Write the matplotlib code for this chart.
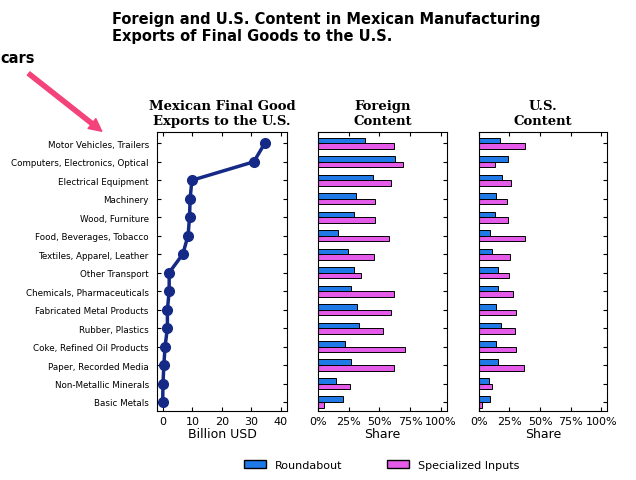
import numpy as np
import matplotlib.pyplot as plt
from matplotlib.patches import Patch

categories = ["Motor Vehicles, Trailers", "Computers, Electronics, Optical",
              "Electrical Equipment", "Machinery", "Wood, Furniture",
              "Food, Beverages, Tobacco", "Textiles, Apparel, Leather",
              "Other Transport", "Chemicals, Pharmaceuticals",
              "Fabricated Metal Products", "Rubber, Plastics",
              "Coke, Refined Oil Products", "Paper, Recorded Media",
              "Non-Metallic Minerals", "Basic Metals"]
exports = [34.5, 30.8, 9.8, 9.2, 9.0, 8.5, 6.7, 2.1, 2.1, 1.5, 1.5, 0.7, 0.3, 0.0, -0.1]
foreign_round = [0.38, 0.63, 0.45, 0.31, 0.29, 0.16, 0.245, 0.29, 0.27, 0.32, 0.33, 0.22, 0.27, 0.15, 0.20]
foreign_spec = [0.62, 0.69, 0.59, 0.46, 0.46, 0.58, 0.455, 0.35, 0.62, 0.59, 0.53, 0.71, 0.62, 0.26, 0.05]
us_round = [0.17, 0.24, 0.19, 0.14, 0.13, 0.09, 0.11, 0.155, 0.155, 0.14, 0.18, 0.14, 0.16, 0.08, 0.09]
us_spec = [0.38, 0.135, 0.26, 0.23, 0.24, 0.38, 0.255, 0.25, 0.275, 0.30, 0.295, 0.305, 0.37, 0.105, 0.027]

blue = "#1f7ae8"
pink = "#e35be8"
navy = "#142a86"
y = np.arange(len(categories))

fig = plt.figure(figsize=(6.36, 4.81), dpi=100)
ax1 = fig.add_axes([0.247, 0.143, 0.204, 0.58])
ax2 = fig.add_axes([0.5, 0.143, 0.203, 0.58])
ax3 = fig.add_axes([0.753, 0.143, 0.202, 0.58])

ax1.plot(exports, y, color=navy, lw=2.5, marker="o", ms=7)
ax1.set_xlim(-2, 42)
ax1.set_xticks([0, 10, 20, 30, 40])
ax1.set_yticks(y)
ax1.set_yticklabels(categories)
ax1.set_xlabel("Billion USD", fontsize=9, labelpad=1)
ax1.set_title("Mexican Final Good\nExports to the U.S.", fontsize=9.5,
              family="DejaVu Serif", fontweight="bold", pad=6)

h = 0.3
for ax, r, s, t in [(ax2, foreign_round, foreign_spec, "Foreign\nContent"),
                    (ax3, us_round, us_spec, "U.S.\nContent")]:
    ax.barh(y - h / 2, r, height=h, color=blue, edgecolor="black", lw=0.7)
    ax.barh(y + h / 2, s, height=h, color=pink, edgecolor="black", lw=0.7)
    ax.set_xlim(0, 1.05)
    ax.set_xticks([0, 0.25, 0.5, 0.75, 1.0])
    ax.set_xticklabels(["0%", "25%", "50%", "75%", "100%"])
    ax.set_yticks(y)
    ax.set_yticklabels([])
    ax.set_xlabel("Share", fontsize=9, labelpad=1)
    ax.set_title(t, fontsize=9.5, family="DejaVu Serif", fontweight="bold", pad=6)

for ax in (ax1, ax2, ax3):
    ax.set_ylim(len(categories) - 0.5, -0.6)
    ax.tick_params(direction="in", top=True, right=True, length=3, labelsize=8)
    ax.tick_params(axis="y", pad=6, labelsize=6.3)

fig.text(0.176, 0.975, "Foreign and U.S. Content in Mexican Manufacturing\nExports of Final Goods to the U.S.",
         fontsize=10.5, fontweight="bold", va="top", ha="left")
fig.text(0.0, 0.87, "cars", fontsize=10.5, fontweight="bold")
fig.add_artist(plt.Annotation("", xy=(0.16, 0.725), xytext=(0.045, 0.845),
                              xycoords="figure fraction",
                              arrowprops=dict(color="#f4427a", width=3, headwidth=9, headlength=9)))

fig.legend(handles=[Patch(facecolor=blue, edgecolor="black", label="Roundabout"),
                    Patch(facecolor=pink, edgecolor="black", label="Specialized Inputs")],
           loc="lower center", bbox_to_anchor=(0.6, 0.0), ncol=2, frameon=False,
           fontsize=8, columnspacing=4)

fig.savefig("out.png", dpi=100)
